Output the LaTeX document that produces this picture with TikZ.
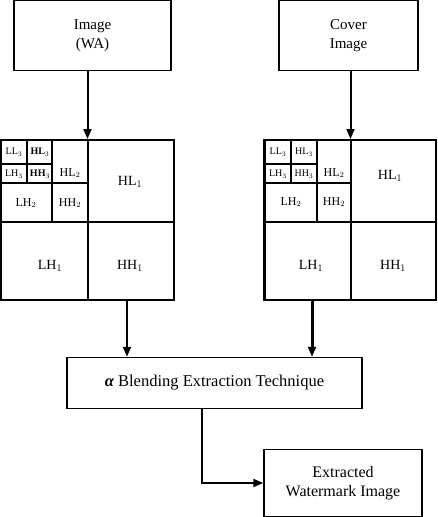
\documentclass[tikz,border=0pt]{standalone}
\usepackage{fontspec}
\setmainfont{Liberation Serif}
\usetikzlibrary{arrows.meta}

\begin{document}
\begin{tikzpicture}[x=1pt,y=-1pt,>={Triangle[length=10pt,width=8pt]},
  box/.style={draw,line width=1.5pt,align=center,inner sep=0pt,font=\fontsize{15}{19}\selectfont},
  quad/.style={draw,line width=2pt,inner sep=0pt,minimum width=173pt,minimum height=160pt},
  lvlthree/.style={inner sep=0pt,font=\fontsize{10}{12}\selectfont},
  lvltwo/.style={inner sep=0pt,font=\fontsize{12}{14}\selectfont},
  lvlone/.style={inner sep=0pt,font=\fontsize{14}{16}\selectfont},
  flow/.style={->,line width=2pt}]
  \useasboundingbox (0,0) rectangle (438,517);

  % input boxes
  \node[box,minimum width=157pt,minimum height=70pt] (img) at (92.5,35.5) {Image\\(WA)};
  \node[box,minimum width=139pt,minimum height=70pt] (cover) at (348.5,35.5) {Cover\\Image};

  % decomposed watermark image
  \node[quad] (wgrid) at (87.5,220) {};
  \draw[line width=2pt] (wgrid.north) -- (wgrid.south);
  \draw[line width=2pt] (1,222) -- (174,222);
  \draw[line width=1.6pt] (52,140) -- (52,222);
  \draw[line width=1.6pt] (1,183) -- (87,183);
  \draw[line width=1.4pt] (27,140) -- (27,183);
  \draw[line width=1.4pt] (1,164) -- (52,164);
  \node[lvlthree] (wll3) at (14,152) {LL$_3$};
  \node[lvlthree] (whl3) at (40,152) {\bfseries HL$_3$};
  \node[lvlthree] (wlh3) at (14,174) {LH$_3$};
  \node[lvlthree] (whh3) at (40,174) {\bfseries HH$_3$};
  \node[lvltwo] (whl2) at (70,173) {HL$_2$};
  \node[lvltwo] (wlh2) at (26,203) {LH$_2$};
  \node[lvltwo] (whh2) at (70,203) {HH$_2$};
  \node[lvlone] (whl1) at (130,182) {HL$_1$};
  \node[lvlone] (wlh1) at (50,266) {LH$_1$};
  \node[lvlone] (whh1) at (130,266) {HH$_1$};

  % decomposed cover image
  \node[quad,minimum width=171pt] (cgrid) at (350.5,220) {};
  \draw[line width=3pt] (cgrid.north west) -- (cgrid.south west);
  \draw[line width=2pt] (351,140) -- (351,300);
  \draw[line width=2pt] (265,222) -- (436,222);
  \draw[line width=1.6pt] (317,140) -- (317,222);
  \draw[line width=1.6pt] (265,183) -- (351,183);
  \draw[line width=1.4pt] (291,140) -- (291,183);
  \draw[line width=1.8pt] (265,164) -- (317,164);
  \node[lvlthree] (cll3) at (278,152) {LL$_3$};
  \node[lvlthree] (chl3) at (304,152) {HL$_3$};
  \node[lvlthree] (clh3) at (278,174) {LH$_3$};
  \node[lvlthree] (chh3) at (304,174) {HH$_3$};
  \node[lvltwo] (chl2) at (334,173) {HL$_2$};
  \node[lvltwo] (clh2) at (291,202) {LH$_2$};
  \node[lvltwo] (chh2) at (334,202) {HH$_2$};
  \node[lvlone] (chl1) at (390,176) {HL$_1$};
  \node[lvlone] (clh1) at (311,266) {LH$_1$};
  \node[lvlone] (chh1) at (393,266) {HH$_1$};

  % extraction and output
  \node[box,minimum width=295pt,minimum height=51pt,font=\fontsize{16.5}{19}\selectfont] (blend) at (214.5,383) {{\bfseries\itshape α} Blending Extraction Technique};
  \node[box,minimum width=158pt,minimum height=67pt,font=\fontsize{16}{19}\selectfont] (wm) at (343,483) {Extracted\\Watermark Image};

  \draw[flow] (img.south -| wgrid.north) -- (wgrid.north);
  \draw[flow] (cover.south -| cgrid.north) -- (cgrid.north);
  \draw[flow] ([xshift=39.5pt]wgrid.south) -- ([xshift=39.5pt]wgrid.south |- blend.north);
  \draw[flow,line width=3pt] ([xshift=-38.5pt]cgrid.south) -- ([xshift=-38.5pt]cgrid.south |- blend.north);
  \draw[flow] ([xshift=-12.5pt]blend.south) |- (wm.west);
\end{tikzpicture}
\end{document}
